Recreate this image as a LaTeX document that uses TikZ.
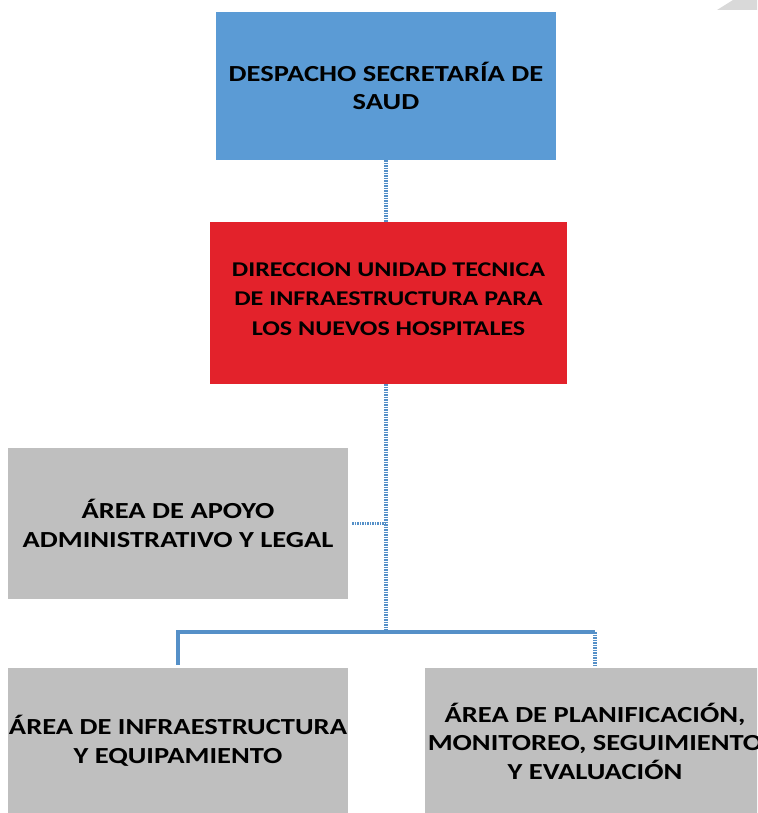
\documentclass[tikz,border=0pt]{standalone}
\usepackage{fontspec}
\setmainfont{Carlito}[FakeStretch=1.24]
\usepackage{xcolor}
\usepackage{tikz}

\definecolor{azulcaja}{HTML}{5B9BD5}
\definecolor{rojocaja}{HTML}{E3222B}
\definecolor{griscaja}{HTML}{BFBFBF}
\definecolor{azullinea}{HTML}{5590C8}
\definecolor{grisesquina}{HTML}{D9D9D9}

\begin{document}
\begin{tikzpicture}[x=1pt,y=-1pt,
		caja/.style={minimum width=340pt,minimum height=150pt,inner sep=0pt,align=center,
			font=\fontsize{23}{28.5}\selectfont\bfseries},
		conector/.style={azullinea,line width=3.2pt},
		punteado/.style={conector,dash pattern=on 1.6pt off 0.9pt}]
		\useasboundingbox (0,0) rectangle (757,813);
		\clip (0,0) rectangle (757,813);
		
		\fill[grisesquina] (717,10) -- (733,0) -- (757,0) -- (757,10) -- cycle;
		
		\node[caja,fill=azulcaja,minimum height=148pt] (despacho) at (386,86) {DESPACHO SECRETARÍA DE\\SAUD};
		\node[caja,fill=rojocaja,minimum width=357pt,minimum height=162pt,
			font=\fontsize{21}{29.5}\selectfont\bfseries] (direccion) at (388.5,303) {DIRECCION UNIDAD TECNICA\\DE INFRAESTRUCTURA PARA\\LOS NUEVOS HOSPITALES\\[-21.5pt]};
		\node[caja,fill=griscaja,minimum height=151pt] (apoyo) at (178,523.5) {ÁREA DE APOYO\\ADMINISTRATIVO Y LEGAL};
		\node[caja,fill=griscaja,minimum height=146pt] (infra) at (178,741) {ÁREA DE INFRAESTRUCTURA\\Y EQUIPAMIENTO};
		\node[caja,fill=griscaja,minimum height=146pt] (planif) at (595,741) {ÁREA DE PLANIFICACIÓN,\\MONITOREO, SEGUIMIENTO\\Y EVALUACIÓN};
		
		\coordinate (rama) at (386,632);
		
		\draw[punteado] (despacho.south) -- (despacho.south |- direccion.north);
		\draw[punteado] (direccion.south -| rama) -- (rama);
		\draw[punteado,shorten <=4pt] (apoyo.east) -- (apoyo.east -| rama);
		\draw[conector,shorten >=3pt] (rama) -| (infra.north);
		\draw[conector] (rama) -- (rama -| planif.north);
		\draw[punteado,shorten >=3pt] (rama -| planif.north) -- (planif.north);
	\end{tikzpicture}
\end{document}
